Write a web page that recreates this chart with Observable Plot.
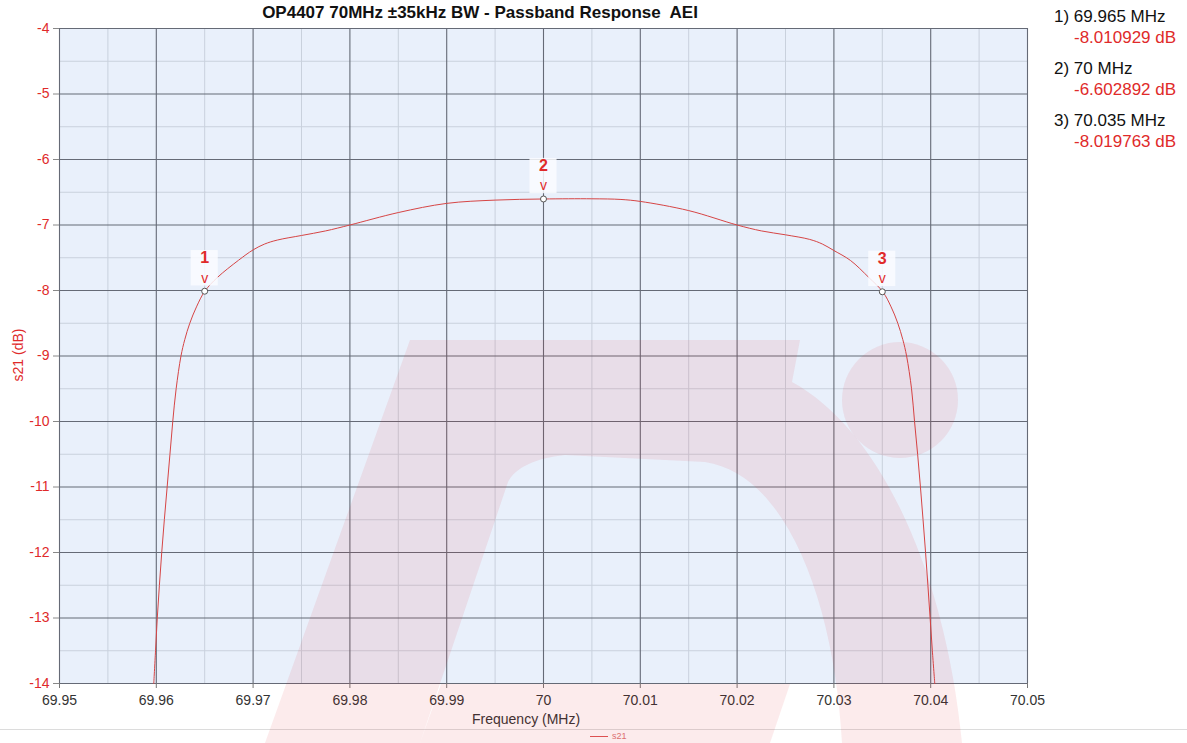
<!DOCTYPE html>
<html>
<head>
<meta charset="utf-8">
<script src="https://cdn.jsdelivr.net/npm/d3@7"></script>
<script src="https://cdn.jsdelivr.net/npm/@observablehq/plot@0.6"></script>
<style>
  html, body { margin: 0; padding: 0; background: #fff; }
  body { font-family: "Liberation Sans", Arial, sans-serif; }
  #wrap { position: relative; width: 1187px; height: 743px; overflow: hidden; }
  #wrap > svg.plot { position: absolute; left: 0; top: 0; }
  .abs { position: absolute; white-space: pre; }
  #title { left: 0; width: 960px; top: 3px; text-align: center; font-weight: bold; font-size: 17px; color: #111; }
  .leg1 { font-size: 17px; color: #111; left: 1054px; }
  .leg2 { font-size: 17px; color: #e02a2a; left: 1074px; }
  #xlab { left: 472px; top: 711px; font-size: 14px; color: #333; }
  #ylab { left: 18px; top: 355px; font-size: 14px; color: #e02a2a; transform: translate(-50%, -50%) rotate(-90deg); }
  #sep { left: 0; top: 729px; width: 1187px; height: 1px; background: #dcdcdc; }
  #slegend { left: 590px; top: 731px; font-size: 9px; color: #d77; }
  #slegend span.ln { display: inline-block; width: 18px; height: 1px; background: #d55; vertical-align: middle; margin-right: 4px; }
  #wm { position: absolute; left: 0; top: 0; pointer-events: none; }
</style>
</head>
<body>
<div id="wrap"></div>
<script>
// ---- data ----
const freq = [69.95974, 69.95992, 69.96010, 69.96032, 69.96056, 69.96083, 69.96112, 69.96141, 69.96170, 69.96205,
  69.96255, 69.96294, 69.96346, 69.96415, 69.96501,
  69.96632, 69.96848, 69.970, 69.9712, 69.9725, 69.975, 69.9775, 69.980, 69.985, 69.990, 69.995,
  70.000, 70.005, 70.008, 70.010, 70.015, 70.020, 70.0225, 70.025, 70.0275, 70.0288, 70.030,
  70.0317, 70.0336, 70.03505,
  70.03591, 70.03660, 70.03712, 70.03751, 70.03802, 70.03833, 70.03865, 70.03894, 70.03921, 70.03947,
  70.03971, 70.03994, 70.04017, 70.04042];
const s21 = [-14, -13.5, -13, -12.5, -12, -11.5, -11, -10.5, -10, -9.5,
  -9, -8.75, -8.5, -8.25, -8.011,
  -7.80, -7.54, -7.38, -7.29, -7.23, -7.16, -7.09, -7.00, -6.81, -6.67, -6.62,
  -6.603, -6.60, -6.61, -6.64, -6.78, -7.00, -7.09, -7.15, -7.22, -7.29, -7.39,
  -7.54, -7.80, -8.020,
  -8.25, -8.5, -8.75, -9, -9.5, -10, -10.5, -11, -11.5, -12,
  -12.5, -13, -13.5, -14];

const markerIds = ["1", "2", "3"];
const markerFreq = [69.965, 70, 70.035];
const markerDb = [-8.010929, -6.602892, -8.019763];
const markerFreqLabels = ["69.965 MHz", "70 MHz", "70.035 MHz"];
const markerDbLabels = ["-8.010929 dB", "-6.602892 dB", "-8.019763 dB"];

const xTicks = [69.95, 69.96, 69.97, 69.98, 69.99, 70, 70.01, 70.02, 70.03, 70.04, 70.05];
const xMinor = [69.955, 69.965, 69.975, 69.985, 69.995, 70.005, 70.015, 70.025, 70.035, 70.045];
const yTicks = [-4, -5, -6, -7, -8, -9, -10, -11, -12, -13, -14];
const yMinor = [-4.5, -5.5, -6.5, -7.5, -8.5, -9.5, -10.5, -11.5, -12.5, -13.5];

const titleText = "OP4407 70MHz \u00b135kHz BW - Passband Response  AEI";
const xLabel = "Frequency (MHz)";
const yLabel = "s21 (dB)";
const seriesName = "s21";

// ---- tables ----
const curve = freq.map((f, i) => ({f, db: s21[i]}));
const markers = markerIds.map((n, i) => ({n, f: markerFreq[i], db: markerDb[i]}));

const red = "#e02a2a";

const chart = Plot.plot({
  width: 1187,
  height: 743,
  marginLeft: 59,
  marginRight: 160,
  marginTop: 28,
  marginBottom: 60,
  style: {fontFamily: "'Liberation Sans', Arial, sans-serif", fontSize: "14px", background: "transparent"},
  x: {domain: [69.95, 70.05], label: null},
  y: {domain: [-14, -4], label: null},
  marks: [
    Plot.frame({fill: "#e9f0fb", stroke: null}),
    Plot.ruleX(xMinor, {stroke: "#c9d1dd", strokeWidth: 1}),
    Plot.ruleY(yMinor, {stroke: "#c9d1dd", strokeWidth: 1}),
    Plot.ruleX(xTicks, {stroke: "#656a76", strokeWidth: 1.1}),
    Plot.ruleY(yTicks, {stroke: "#656a76", strokeWidth: 1.1}),
    Plot.axisX({ticks: xTicks, tickSize: 5, tickPadding: 7, tickFormat: d => String(d), fill: "#333", stroke: "#777", label: null}),
    Plot.axisY({ticks: yTicks, tickSize: 6, tickPadding: 4, tickFormat: d => String(d), fill: red, stroke: "#888", label: null}),
    Plot.line(curve, {x: "f", y: "db", stroke: "#d64545", strokeWidth: 1, curve: "catmull-rom"}),
    Plot.rect(markers, {x1: d => d.f - 0.0014, x2: d => d.f + 0.0014, y1: d => d.db + 0.08, y2: d => d.db + 0.62, fill: "#fafcff", fillOpacity: 0.85}),
    Plot.dot(markers, {x: "f", y: "db", r: 3, fill: "white", stroke: "#555", strokeWidth: 1}),
    Plot.text(markers, {x: "f", y: "db", text: () => "v", dy: -13, fill: red, fontSize: 14}),
    Plot.text(markers, {x: "f", y: "db", text: "n", dy: -33, fill: red, fontSize: 16, fontWeight: "bold"})
  ]
});
chart.classList.add("plot");

const wrap = document.getElementById("wrap");
wrap.appendChild(chart);

function addDiv(id, cls, text, style) {
  const d = document.createElement("div");
  if (id) d.id = id;
  d.className = "abs" + (cls ? " " + cls : "");
  if (text != null) d.textContent = text;
  if (style) Object.assign(d.style, style);
  wrap.appendChild(d);
  return d;
}
addDiv("title", "", titleText);
addDiv("xlab", "", xLabel);
addDiv("ylab", "", yLabel);
addDiv("sep", "", null);
const sl = addDiv("slegend", "", null);
sl.innerHTML = '<span class="ln"></span>' + seriesName;

markerIds.forEach((n, i) => {
  addDiv(null, "leg1", n + ") " + markerFreqLabels[i], {top: (7 + i * 52) + "px"});
  addDiv(null, "leg2", markerDbLabels[i], {top: (28 + i * 52) + "px"});
});

// ---- watermark decoration (logo), not data ----
const ns = "http://www.w3.org/2000/svg";
const wm = document.createElementNS(ns, "svg");
wm.setAttribute("id", "wm");
wm.setAttribute("width", 1187);
wm.setAttribute("height", 743);
const g = document.createElementNS(ns, "g");
g.setAttribute("fill", "rgb(225,30,40)");
g.setAttribute("fill-opacity", "0.09");
const p1 = document.createElementNS(ns, "path");
p1.setAttribute("d", "M265,743 L410,340 L800,340 L792,382 C880,430 945,570 962,743 L842,743 C835,610 790,475 705,462 L565,455 C535,458 515,468 508,482 L420,743 Z");
const p2 = document.createElementNS(ns, "path");
p2.setAttribute("d", "M420,743 L441,684 L790,684 L770,743 Z");
const c1 = document.createElementNS(ns, "circle");
c1.setAttribute("cx", 900); c1.setAttribute("cy", 400); c1.setAttribute("r", 58);
g.appendChild(p1); g.appendChild(p2); g.appendChild(c1);
wm.appendChild(g);
wrap.appendChild(wm);
</script>
</body>
</html>
